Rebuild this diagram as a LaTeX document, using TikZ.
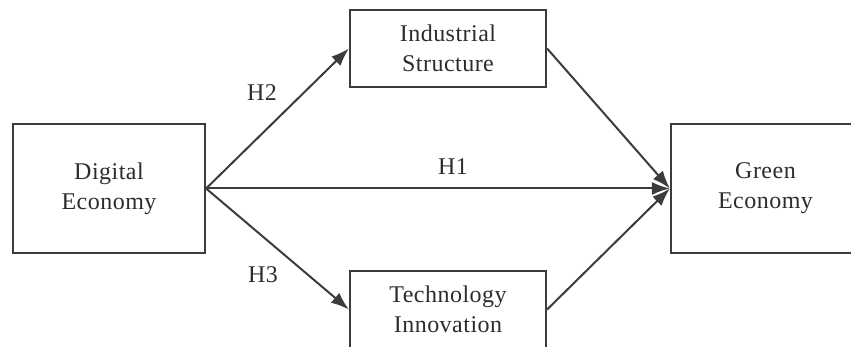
\documentclass[tikz,border=0pt]{standalone}
\usepackage{fontspec}
\setmainfont{Liberation Serif}[LetterSpace=2]
\usetikzlibrary{arrows.meta}
\definecolor{lc}{RGB}{60,60,60}
\definecolor{tc}{RGB}{45,45,45}
\tikzset{
  box/.style={draw=lc, line width=2.2pt, fill=white, rectangle, align=center, text=tc,
    font=\fontsize{24}{30}\selectfont, inner sep=0pt},
  conn/.style={draw=lc, line width=2pt, -{Latex[length=18pt,width=13pt]}},
  lab/.style={text=tc, font=\fontsize{24}{30}\selectfont, inner sep=0pt}
}
\begin{document}
\begin{tikzpicture}[x=1pt,y=1pt]
\clip (0,0) rectangle (851,-347);
\fill[white] (0,0) rectangle (851,-347);
\node[box, minimum width=192pt, minimum height=129pt] (dig) at (109,-188.5) {Digital\\Economy};
\node[box, minimum width=196pt, minimum height=77pt] (ind) at (448,-48.5) {Industrial\\Structure};
\node[box, minimum width=196pt, minimum height=77pt] (tec) at (448,-309.5) {Technology\\Innovation};
\node[box, minimum width=189pt, minimum height=129pt] (gre) at (765.5,-188.5) {Green\\Economy};
\draw[conn] (dig.east) -- (ind.west);
\draw[conn] (dig.east) -- (tec.west);
\draw[conn] (dig.east) -- (gre.west);
\draw[conn] (ind.east) -- (gre.west);
\draw[conn] (tec.east) -- (gre.west);
\node[lab] (h2) at (262,-93) {H2};
\node[lab] (h1) at (453,-167) {H1};
\node[lab] (h3) at (263,-275) {H3};
\end{tikzpicture}
\end{document}
